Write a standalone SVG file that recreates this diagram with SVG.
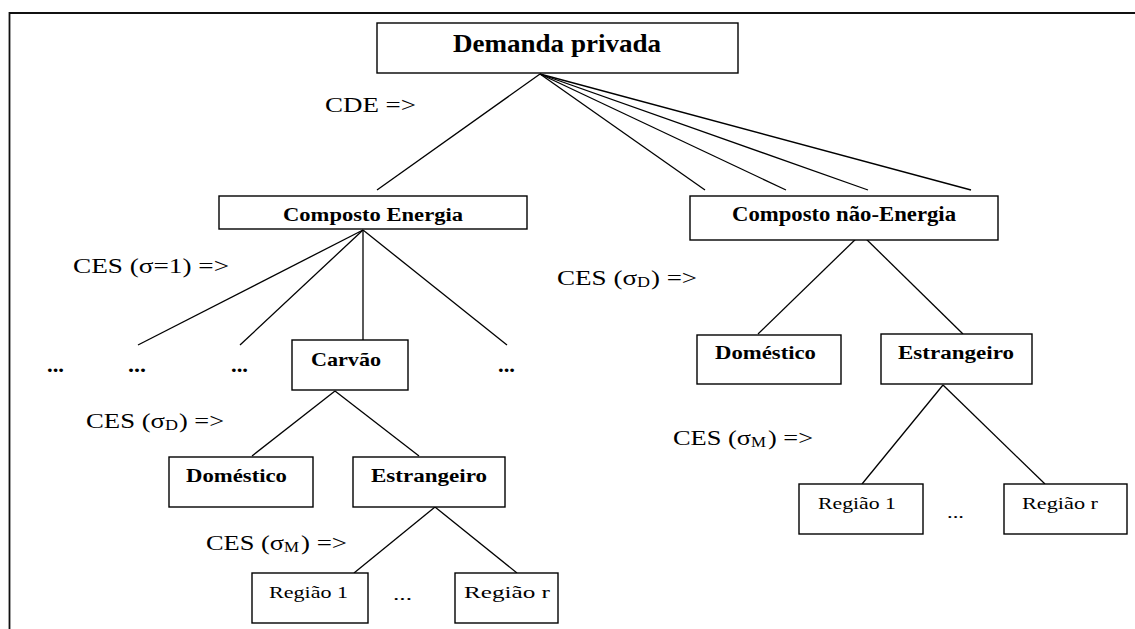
<svg xmlns="http://www.w3.org/2000/svg" width="1135" height="629" viewBox="0 0 1135 629">
  <style>
    .box { fill: #ffffff; stroke: #000000; stroke-width: 1.4; }
    .edge { stroke: #000000; stroke-width: 1.3; fill: none; }
    .frame { stroke: #111111; stroke-width: 1.8; fill: none; }
    text { font-family: "Liberation Serif", "Times New Roman", serif; fill: #000000; }
    .b { font-weight: bold; }
    .lbl { font-size: 21px; }
    .sub { font-size: 14px; }
    .reg { font-size: 17px; }
  </style>

  <rect width="1135" height="629" fill="#ffffff"/>

  <!-- page frame (top and left rules) -->
  <path class="frame" d="M1135 13 H9.5 V629"/>

  <!-- connectors -->
  <g id="connectors">
    <line class="edge" x1="540" y1="74" x2="377" y2="190"/>
    <line class="edge" x1="540" y1="74" x2="705" y2="190"/>
    <line class="edge" x1="540" y1="74" x2="786" y2="190"/>
    <line class="edge" x1="540" y1="74" x2="868" y2="190"/>
    <line class="edge" x1="540" y1="74" x2="971" y2="190"/>

    <line class="edge" x1="363" y1="230" x2="138" y2="345"/>
    <line class="edge" x1="363" y1="230" x2="240" y2="345"/>
    <line class="edge" x1="363" y1="230" x2="363" y2="346"/>
    <line class="edge" x1="363" y1="230" x2="507" y2="345"/>

    <line class="edge" x1="335" y1="391" x2="252" y2="456"/>
    <line class="edge" x1="335" y1="391" x2="419" y2="456"/>

    <line class="edge" x1="435" y1="507" x2="354" y2="573"/>
    <line class="edge" x1="435" y1="507" x2="517" y2="573"/>

    <line class="edge" x1="861" y1="234" x2="758" y2="334"/>
    <line class="edge" x1="861" y1="234" x2="963" y2="334"/>

    <line class="edge" x1="943" y1="385" x2="862" y2="484"/>
    <line class="edge" x1="943" y1="385" x2="1045" y2="484"/>
  </g>

  <!-- nodes -->
  <g id="demanda-privada">
    <rect class="box" x="377" y="23" width="361" height="50"/>
    <text class="b" x="453" y="52" font-size="25" textLength="208" lengthAdjust="spacingAndGlyphs">Demanda privada</text>
  </g>

  <g id="composto-energia">
    <rect class="box" x="219" y="196" width="308" height="33"/>
    <text class="b" x="283" y="221" font-size="18" textLength="180" lengthAdjust="spacingAndGlyphs">Composto Energia</text>
  </g>

  <g id="composto-nao-energia">
    <rect class="box" x="690" y="196" width="308" height="44"/>
    <text class="b" x="732" y="221" font-size="20" textLength="224" lengthAdjust="spacingAndGlyphs">Composto não-Energia</text>
  </g>

  <g id="outros-energia">
    <text class="b" x="47" y="372" font-size="20" textLength="17" lengthAdjust="spacingAndGlyphs">...</text>
    <text class="b" x="128" y="372" font-size="20" textLength="18" lengthAdjust="spacingAndGlyphs">...</text>
    <text class="b" x="231" y="372" font-size="20" textLength="17" lengthAdjust="spacingAndGlyphs">...</text>
    <text class="b" x="498" y="372" font-size="20" textLength="17" lengthAdjust="spacingAndGlyphs">...</text>
  </g>

  <g id="carvao">
    <rect class="box" x="292" y="340" width="116" height="50"/>
    <text class="b" x="311" y="366" font-size="19" textLength="70" lengthAdjust="spacingAndGlyphs">Carvão</text>
  </g>

  <g id="domestico-carvao">
    <rect class="box" x="169" y="457" width="144" height="50"/>
    <text class="b" x="186" y="482" font-size="18" textLength="101" lengthAdjust="spacingAndGlyphs">Doméstico</text>
  </g>

  <g id="estrangeiro-carvao">
    <rect class="box" x="353" y="457" width="152" height="50"/>
    <text class="b" x="371" y="482" font-size="18" textLength="116" lengthAdjust="spacingAndGlyphs">Estrangeiro</text>
  </g>

  <g id="regiao-1-carvao">
    <rect class="box" x="252" y="573" width="116" height="50"/>
    <text class="reg" x="269" y="598" textLength="79" lengthAdjust="spacingAndGlyphs">Região 1</text>
  </g>

  <g id="regiao-r-carvao">
    <rect class="box" x="455" y="573" width="103" height="50"/>
    <text class="reg" x="464" y="598" textLength="86" lengthAdjust="spacingAndGlyphs">Região r</text>
  </g>

  <g id="domestico-nao-energia">
    <rect class="box" x="697" y="335" width="144" height="49"/>
    <text class="b" x="715" y="359" font-size="18" textLength="101" lengthAdjust="spacingAndGlyphs">Doméstico</text>
  </g>

  <g id="estrangeiro-nao-energia">
    <rect class="box" x="881" y="334" width="151" height="50"/>
    <text class="b" x="898" y="359" font-size="18" textLength="116" lengthAdjust="spacingAndGlyphs">Estrangeiro</text>
  </g>

  <g id="regiao-1-nao-energia">
    <rect class="box" x="799" y="484" width="124" height="50"/>
    <text class="reg" x="818" y="509" textLength="78" lengthAdjust="spacingAndGlyphs">Região 1</text>
  </g>

  <g id="regiao-r-nao-energia">
    <rect class="box" x="1004" y="484" width="123" height="50"/>
    <text class="reg" x="1022" y="509" textLength="76" lengthAdjust="spacingAndGlyphs">Região r</text>
  </g>

  <!-- ellipses between regions -->
  <text class="reg" x="393" y="600" textLength="19" lengthAdjust="spacingAndGlyphs">...</text>
  <text class="reg" x="947" y="518" textLength="17" lengthAdjust="spacingAndGlyphs">...</text>

  <!-- nesting function labels -->
  <text x="325" y="112" font-size="22" textLength="91" lengthAdjust="spacingAndGlyphs">CDE =&gt;</text>
  <text class="lbl" x="73" y="273" textLength="156" lengthAdjust="spacingAndGlyphs">CES (σ=1) =&gt;</text>

  <g id="ces-sigma-d-carvao">
    <text class="lbl" x="86" y="428" textLength="79" lengthAdjust="spacingAndGlyphs">CES (σ</text>
    <text class="sub" x="165" y="430" textLength="13" lengthAdjust="spacingAndGlyphs">D</text>
    <text class="lbl" x="179" y="428" textLength="45" lengthAdjust="spacingAndGlyphs">) =&gt;</text>
  </g>

  <g id="ces-sigma-m-carvao">
    <text class="lbl" x="206" y="550" textLength="78" lengthAdjust="spacingAndGlyphs">CES (σ</text>
    <text class="sub" x="284" y="552" textLength="15" lengthAdjust="spacingAndGlyphs">M</text>
    <text class="lbl" x="301" y="550" textLength="46" lengthAdjust="spacingAndGlyphs">) =&gt;</text>
  </g>

  <g id="ces-sigma-d-nao-energia">
    <text class="lbl" x="557" y="285" textLength="80" lengthAdjust="spacingAndGlyphs">CES (σ</text>
    <text class="sub" x="637" y="287" textLength="13" lengthAdjust="spacingAndGlyphs">D</text>
    <text class="lbl" x="651" y="285" textLength="46" lengthAdjust="spacingAndGlyphs">) =&gt;</text>
  </g>

  <g id="ces-sigma-m-nao-energia">
    <text class="lbl" x="673" y="445" textLength="78" lengthAdjust="spacingAndGlyphs">CES (σ</text>
    <text class="sub" x="751" y="447" textLength="15" lengthAdjust="spacingAndGlyphs">M</text>
    <text class="lbl" x="768" y="445" textLength="45" lengthAdjust="spacingAndGlyphs">) =&gt;</text>
  </g>
</svg>
